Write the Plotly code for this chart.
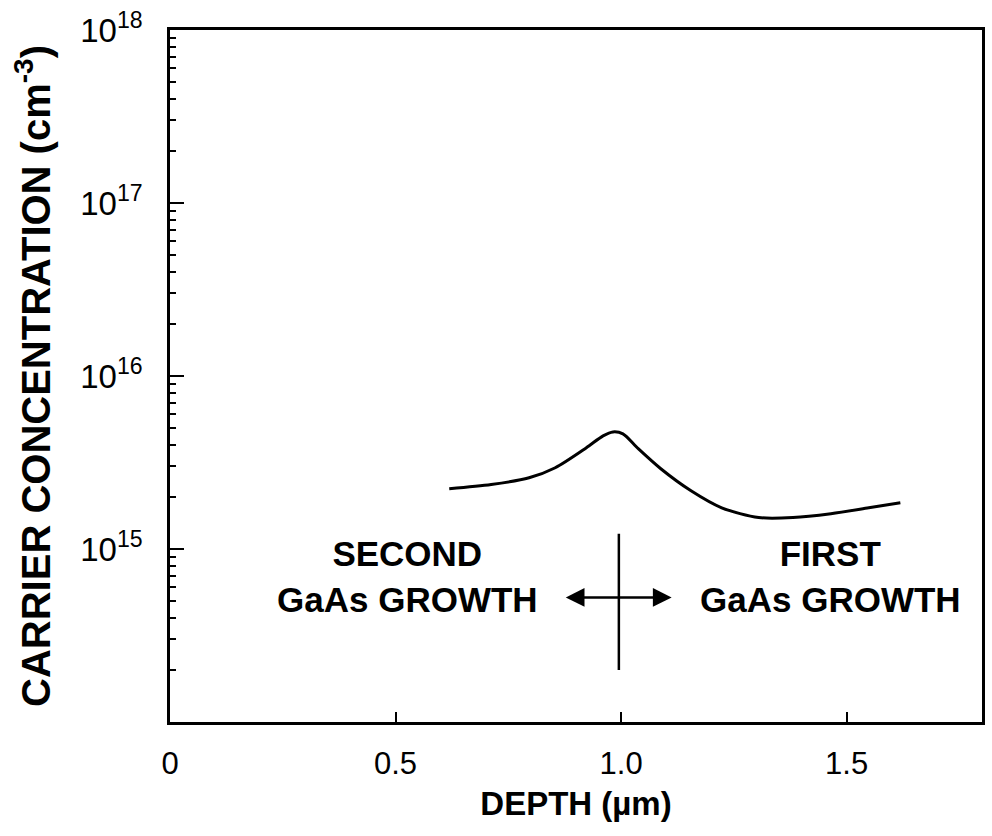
import plotly.graph_objects as go
import math

depth_um = [0.619, 0.712, 0.796, 0.854, 0.923, 0.960, 0.982, 1.004, 1.038,
            1.088, 1.155, 1.223, 1.305, 1.381, 1.465, 1.549, 1.619]
carrier_conc = [2.23e15, 2.36e15, 2.58e15, 2.95e15, 3.85e15, 4.51e15, 4.75e15,
                4.63e15, 3.80e15, 2.91e15, 2.17e15, 1.73e15, 1.52e15, 1.52e15,
                1.60e15, 1.73e15, 1.85e15]

x_tickvals = [0, 0.5, 1.0, 1.5]
x_ticktext = ["0", "0.5", "1.0", "1.5"]
y_tickvals = [1e15, 1e16, 1e17, 1e18]
y_ticktext = ["10<sup>15</sup>", "10<sup>16</sup>", "10<sup>17</sup>", "10<sup>18</sup>"]

interface_x = 0.995
interface_y = [1.25e15, 2.0e14]
arrow_x = [0.874, 1.112]
arrow_y = 5.25e14
label_left = ("SECOND<br>GaAs GROWTH", 0.526, 6.9e14)
label_right = ("FIRST<br>GaAs GROWTH", 1.464, 6.9e14)

FONT = "Liberation Sans, Arial, sans-serif"

fig = go.Figure()
fig.add_trace(go.Scatter(x=depth_um, y=carrier_conc, mode="lines",
                         line=dict(color="black", width=3, shape="spline", smoothing=0.8),
                         showlegend=False, hoverinfo="skip"))

annotations = []
annotations.append(dict(x=interface_x, y=math.log10(interface_y[1]), ax=interface_x,
                        ay=math.log10(interface_y[0]), xref="x", yref="y", axref="x", ayref="y",
                        showarrow=True, arrowhead=0, arrowwidth=2.5, arrowcolor="black", text=""))
annotations.append(dict(x=arrow_x[1], y=math.log10(arrow_y), ax=arrow_x[0], ay=math.log10(arrow_y),
                        xref="x", yref="y", axref="x", ayref="y", text="", showarrow=True,
                        arrowhead=2, startarrowhead=2, arrowside="end+start", arrowsize=1.5,
                        startarrowsize=1.5, arrowwidth=2.5, arrowcolor="black"))
for txt, xx, yy in (label_left, label_right):
    annotations.append(dict(x=xx, y=math.log10(yy), xref="x", yref="y", text=txt, showarrow=False,
                            align="center", font=dict(family=FONT, size=35, color="black", weight="bold")))

fig.update_layout(
    width=992, height=836,
    margin=dict(l=170, r=7, t=28, b=114),
    paper_bgcolor="white", plot_bgcolor="white",
    annotations=annotations,
    xaxis=dict(range=[0, 1.8], tickmode="array", tickvals=x_tickvals, ticktext=x_ticktext,
               ticks="inside", ticklen=10, tickwidth=2, tickcolor="black",
               showline=True, linecolor="black", linewidth=2.5, mirror=True,
               showgrid=False, zeroline=False,
               tickfont=dict(family=FONT, size=31, color="black"),
               ticklabelstandoff=12,
               title=dict(text="DEPTH (µm)", standoff=12,
                          font=dict(family=FONT, size=33, color="black", weight="bold"))),
    yaxis=dict(type="log", range=[14, 18], tickmode="array", tickvals=y_tickvals, ticktext=y_ticktext,
               ticks="inside", ticklen=14, tickwidth=2, tickcolor="black",
               minor=dict(ticks="inside", ticklen=6, tickwidth=2, tickcolor="black", dtick="D1", showgrid=False),
               showline=True, linecolor="black", linewidth=2.5, mirror=True,
               showgrid=False, zeroline=False,
               tickfont=dict(family=FONT, size=33, color="black"),
               ticklabelstandoff=18,
               title=dict(text="CARRIER CONCENTRATION (cm<sup>-3</sup>)", standoff=18,
                          font=dict(family=FONT, size=40, color="black", weight="bold"))),
)

fig.write_html("out.html")
